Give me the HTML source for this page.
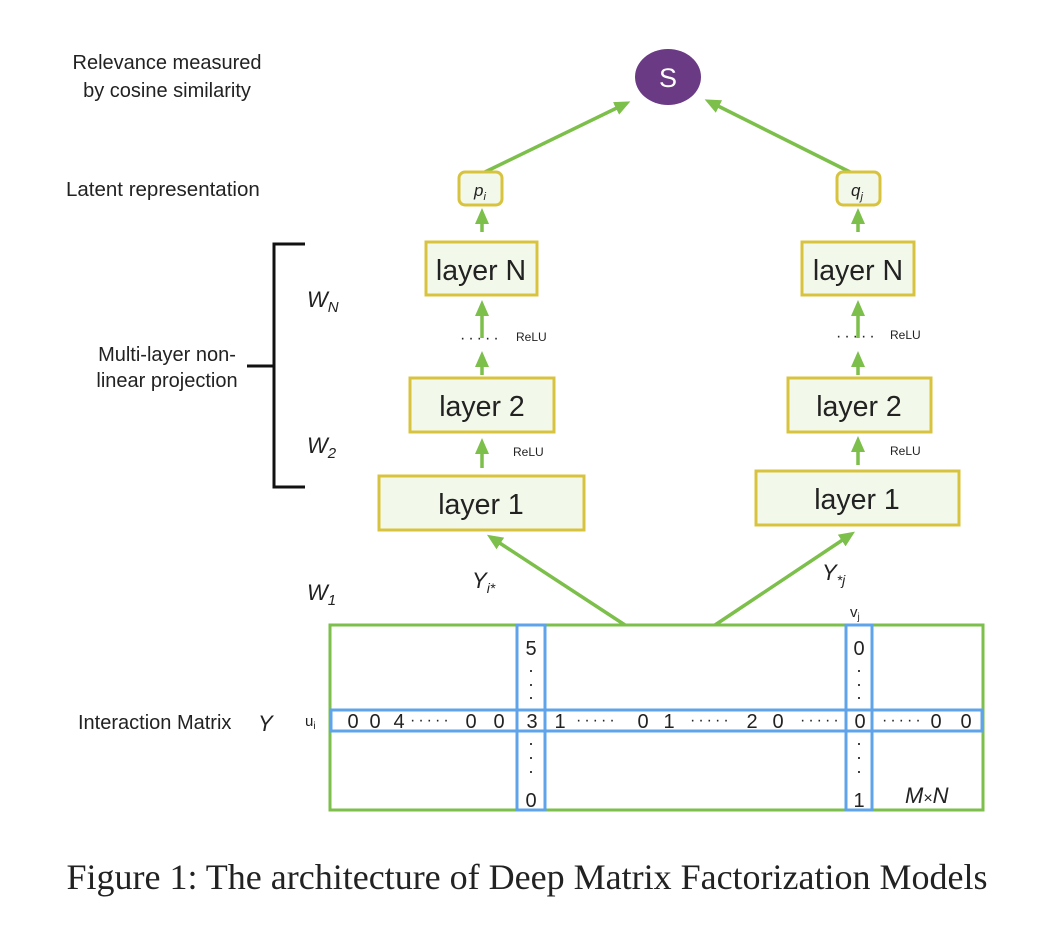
<!DOCTYPE html>
<html><head><style>body{margin:0;background:#fff}svg{display:block}text{font-family:"Liberation Sans",sans-serif;fill:#222}</style></head>
<body>
<svg width="1052" height="936" viewBox="0 0 1052 936" xmlns="http://www.w3.org/2000/svg">
<defs>
<marker id="b" markerWidth="16" markerHeight="14" refX="10" refY="7" orient="auto" markerUnits="userSpaceOnUse"><path d="M0,0 L16,7 L0,14z" fill="#7cbf4a"/></marker>
</defs>
<text x="167" y="69" font-size="20" text-anchor="middle">Relevance measured</text>
<text x="167" y="97" font-size="20" text-anchor="middle">by cosine similarity</text>
<text x="66" y="196" font-size="20.5">Latent representation</text>
<text x="167" y="361" font-size="20" text-anchor="middle">Multi-layer non-</text>
<text x="167" y="387" font-size="20" text-anchor="middle">linear projection</text>
<text x="78" y="729" font-size="20">Interaction Matrix</text>
<text x="258" y="731" font-size="22" font-style="italic">Y</text>
<text x="307" y="307" font-size="22" font-style="italic">W<tspan font-size="15" dy="5">N</tspan></text>
<text x="307" y="453" font-size="22" font-style="italic">W<tspan font-size="15" dy="5">2</tspan></text>
<text x="307" y="600" font-size="22" font-style="italic">W<tspan font-size="15" dy="5">1</tspan></text>
<path d="M305,244 H274 V487 H305 M247,366 H274" stroke="#111" stroke-width="3" fill="none"/>
<ellipse cx="668" cy="77" rx="33" ry="28" fill="#6a3a85"/>
<text x="668" y="87" font-size="27" text-anchor="middle" style="fill:#fff">S</text>
<g stroke="#7cbf4a" stroke-width="3.5" fill="none">
<line x1="485" y1="172" x2="625" y2="104" marker-end="url(#b)"/>
<line x1="850" y1="172" x2="710" y2="102" marker-end="url(#b)"/>
<line x1="625" y1="625" x2="492" y2="538" marker-end="url(#b)"/>
<line x1="715" y1="625" x2="850" y2="535" marker-end="url(#b)"/>
<line x1="482" y1="232" x2="482" y2="214" marker-end="url(#b)"/>
<line x1="858" y1="232" x2="858" y2="214" marker-end="url(#b)"/>
<line x1="482" y1="338" x2="482" y2="306" marker-end="url(#b)"/>
<line x1="858" y1="338" x2="858" y2="306" marker-end="url(#b)"/>
<line x1="482" y1="375" x2="482" y2="357" marker-end="url(#b)"/>
<line x1="858" y1="375" x2="858" y2="357" marker-end="url(#b)"/>
<line x1="482" y1="468" x2="482" y2="444" marker-end="url(#b)"/>
<line x1="858" y1="465" x2="858" y2="442" marker-end="url(#b)"/>
</g>
<g fill="#f3f9ea" stroke="#d8c33f" stroke-width="3">
<rect x="459" y="172" width="43" height="33" rx="6"/>
<rect x="837" y="172" width="43" height="33" rx="6"/>
<rect x="426" y="242" width="111" height="53"/>
<rect x="802" y="242" width="112" height="53"/>
<rect x="410" y="378" width="144" height="54"/>
<rect x="788" y="378" width="143" height="54"/>
<rect x="379" y="476" width="205" height="54"/>
<rect x="756" y="471" width="203" height="54"/>
</g>
<text x="480" y="196" font-size="17" font-style="italic" text-anchor="middle">p<tspan font-size="11" dy="4">i</tspan></text>
<text x="857" y="196" font-size="17" font-style="italic" text-anchor="middle">q<tspan font-size="11" dy="4">j</tspan></text>
<g font-size="28.5" text-anchor="middle">
<text x="481" y="280">layer N</text><text x="858" y="280">layer N</text>
<text x="482" y="416">layer 2</text><text x="859" y="416">layer 2</text>
<text x="481" y="514">layer 1</text><text x="857" y="509">layer 1</text>
</g>
<g font-size="12" style="fill:#555"><text x="516" y="341">ReLU</text><text x="890" y="339">ReLU</text><text x="513" y="456">ReLU</text><text x="890" y="455">ReLU</text></g>
<text x="460" y="343" font-size="16" letter-spacing="3">·····</text>
<text x="836" y="341" font-size="16" letter-spacing="3">·····</text>
<text x="472" y="588" font-size="22" font-style="italic">Y<tspan font-size="14" dy="5">i*</tspan></text>
<text x="822" y="580" font-size="22" font-style="italic">Y<tspan font-size="14" dy="5">*j</tspan></text>
<rect x="330" y="625" width="653" height="185" fill="none" stroke="#7cbf4a" stroke-width="3"/>
<g fill="none" stroke="#5fa3ea" stroke-width="3">
<rect x="331" y="710" width="651" height="21"/>
<rect x="517" y="625" width="28" height="185"/>
<rect x="846" y="625" width="26" height="185"/>
</g>
<text x="850" y="617" font-size="15">v<tspan font-size="10" dy="3">j</tspan></text>
<text x="305" y="726" font-size="15">u<tspan font-size="10" dy="3">i</tspan></text>
<g font-size="20" text-anchor="middle">
<text x="531" y="655">5</text><text x="531" y="807">0</text><text x="859" y="655">0</text><text x="859" y="807">1</text>
</g>
<g font-size="18" text-anchor="middle"><text x="531" y="676">·</text><text x="531" y="690">·</text><text x="531" y="703">·</text><text x="531" y="749">·</text><text x="531" y="763">·</text><text x="531" y="777">·</text>
<text x="859" y="676">·</text><text x="859" y="690">·</text><text x="859" y="703">·</text><text x="859" y="749">·</text><text x="859" y="763">·</text><text x="859" y="777">·</text></g>
<g font-size="20" text-anchor="middle">
<text x="353" y="728">0</text><text x="375" y="728">0</text><text x="399" y="728">4</text>
<text x="471" y="728">0</text><text x="499" y="728">0</text><text x="532" y="728">3</text>
<text x="560" y="728">1</text><text x="643" y="728">0</text><text x="669" y="728">1</text>
<text x="752" y="728">2</text><text x="778" y="728">0</text><text x="860" y="728">0</text>
<text x="936" y="728">0</text><text x="966" y="728">0</text>
</g>
<g font-size="16" letter-spacing="3" style="fill:#333">
<text x="410" y="725">·····</text><text x="576" y="725">·····</text><text x="690" y="725">·····</text><text x="800" y="725">·····</text><text x="882" y="725">·····</text>
</g>
<text x="905" y="803" font-size="22" font-style="italic">M<tspan font-style="normal" font-size="16">×</tspan>N</text>
<text x="527" y="889" font-size="36" text-anchor="middle" style="font-family:'Liberation Serif',serif">Figure 1: The architecture of Deep Matrix Factorization Models</text>
</svg>
</body></html>
